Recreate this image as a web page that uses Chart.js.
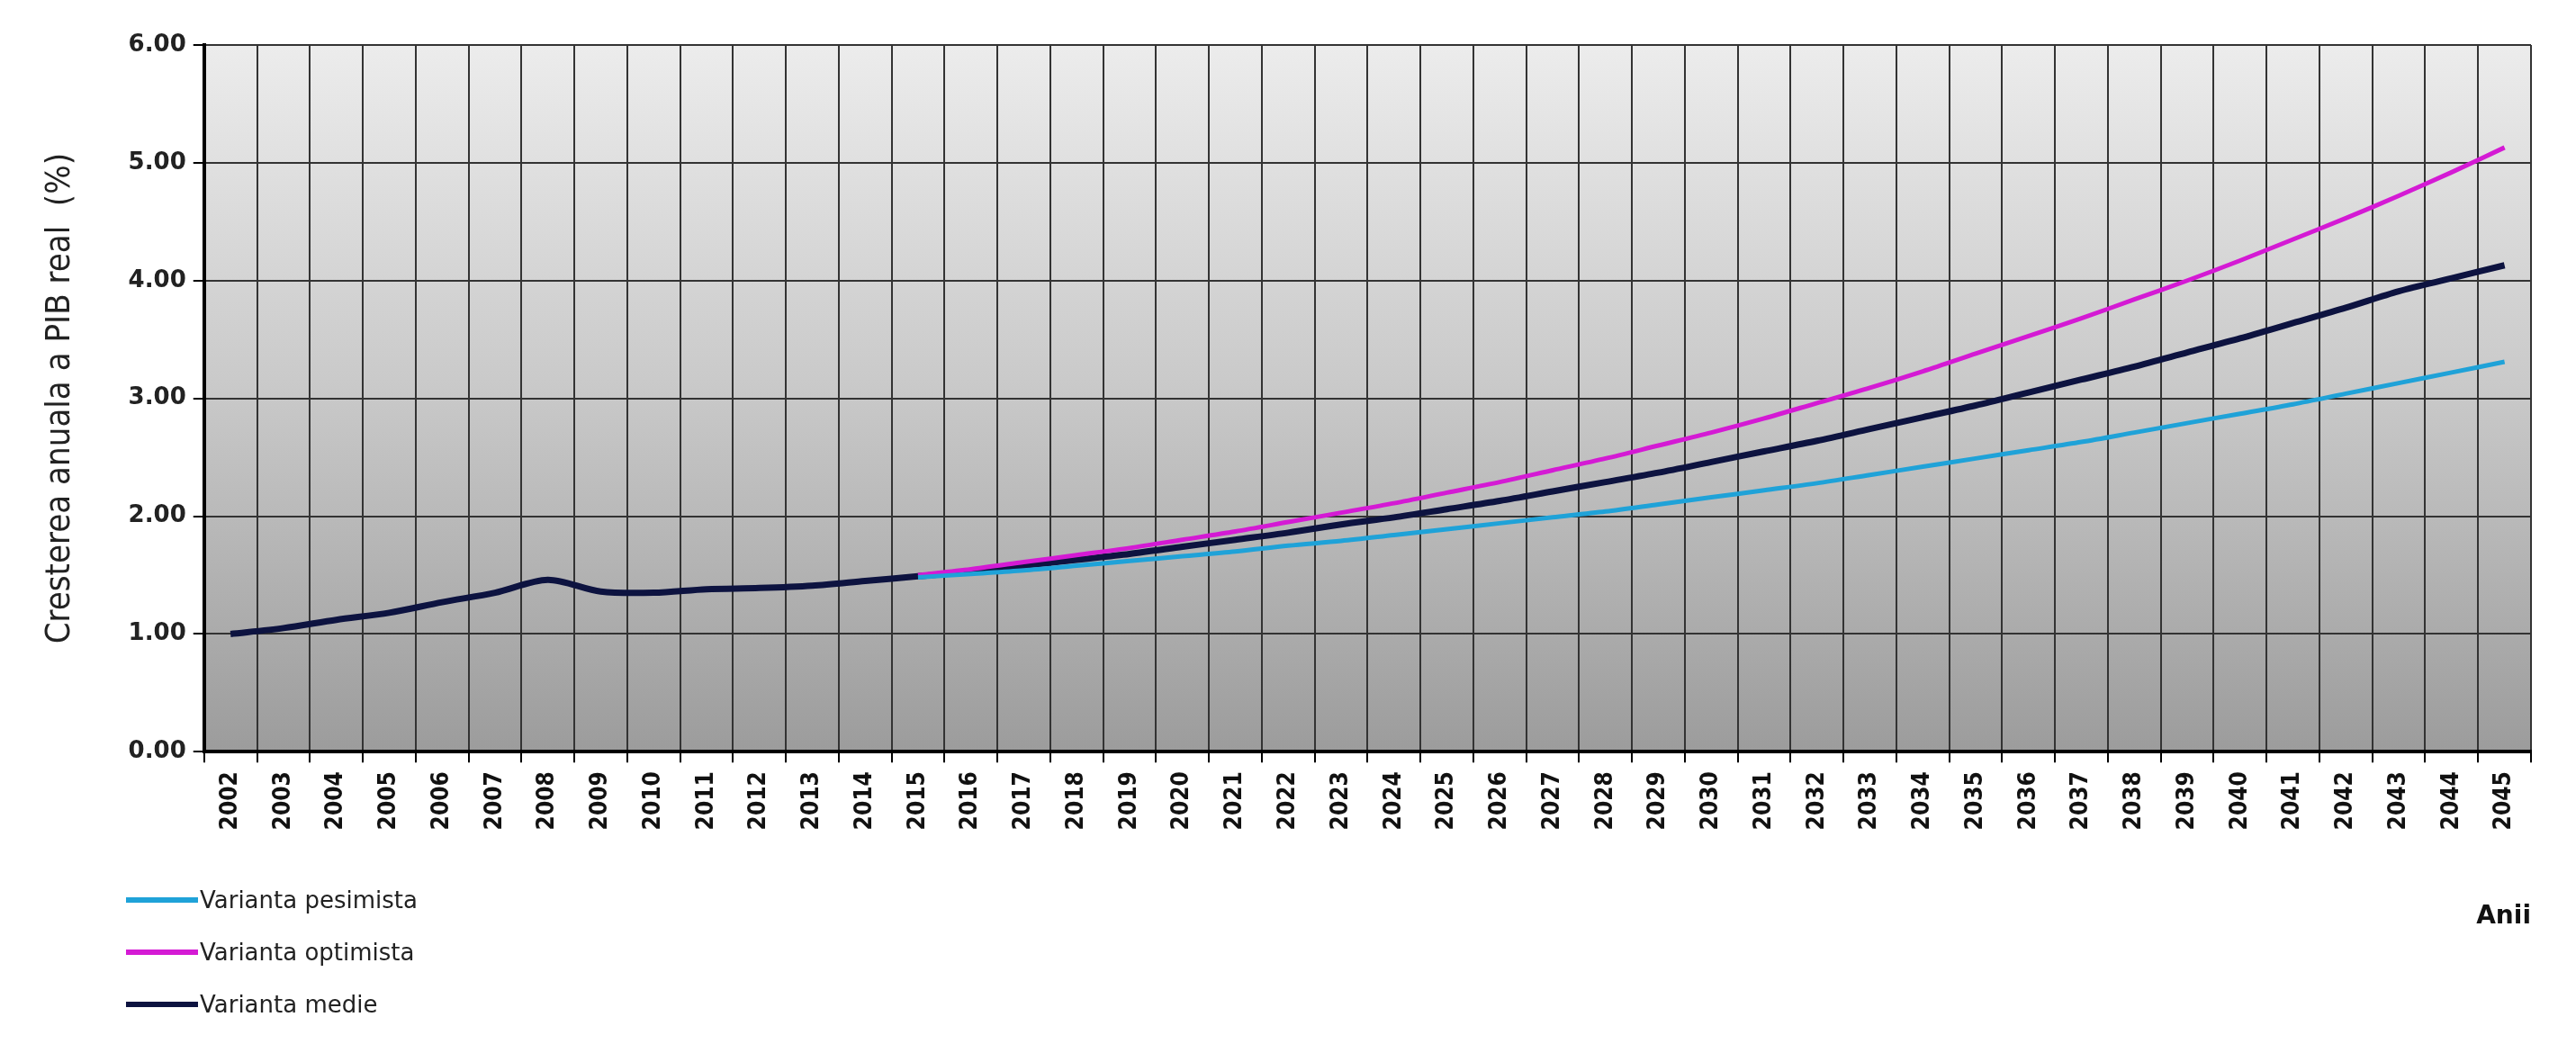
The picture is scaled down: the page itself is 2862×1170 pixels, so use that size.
<!DOCTYPE html>
<html><head><meta charset="utf-8">
<script src="https://cdn.jsdelivr.net/npm/chart.js@4"></script>
<style>
body{margin:0;background:#fff;width:2862px;height:1170px;overflow:hidden;font-family:"DejaVu Sans",Verdana,sans-serif}
#wrap{position:absolute;left:0;top:0;width:2862px;height:1170px}
#legend{position:absolute;left:140px;top:971px;font-size:26px;color:#222}
#legend div{height:58px;display:flex;align-items:center}
#legend span{display:inline-block;width:80px;height:6px;margin-right:2px}
</style></head><body>
<div id="wrap"><canvas id="c" width="2862" height="1170"></canvas></div>
<div id="legend">
<div><span style="background:#1fa2d8"></span>Varianta pesimista</div>
<div><span style="background:#d41ad4"></span>Varianta optimista</div>
<div><span style="background:#0d1340"></span>Varianta medie</div>
</div>
<script>
const years=[];for(let y=2002;y<=2045;y++)years.push(String(y));
const medie=[1.00,1.05,1.12,1.18,1.27,1.35,1.46,1.36,1.35,1.38,1.39,1.41,1.45,1.49,1.53,1.58,1.63,1.68,1.74,1.80,1.86,1.93,1.99,2.06,2.13,2.21,2.29,2.37,2.46,2.55,2.64,2.74,2.84,2.94,3.05,3.16,3.27,3.39,3.51,3.64,3.77,3.91,4.02,4.13];
const pesimista=[null,null,null,null,null,null,null,null,null,null,null,null,null,1.48,1.51,1.54,1.58,1.62,1.66,1.70,1.75,1.79,1.84,1.89,1.94,1.99,2.04,2.10,2.16,2.22,2.28,2.35,2.42,2.49,2.56,2.63,2.71,2.79,2.87,2.95,3.04,3.13,3.22,3.31];
const optimista=[null,null,null,null,null,null,null,null,null,null,null,null,null,1.50,1.55,1.61,1.67,1.73,1.80,1.87,1.95,2.03,2.11,2.20,2.29,2.39,2.49,2.60,2.71,2.83,2.96,3.09,3.23,3.38,3.53,3.68,3.84,4.00,4.17,4.35,4.53,4.72,4.92,5.13];
const bg={id:'bg',beforeDraw(ch){const a=ch.chartArea,c=ch.ctx;const g=c.createLinearGradient(0,a.top,0,a.bottom);g.addColorStop(0,'#ececec');g.addColorStop(0.5,'#c8c8c8');g.addColorStop(1,'#9c9c9c');c.save();c.fillStyle=g;c.fillRect(a.left,a.top,a.right-a.left,a.bottom-a.top);c.restore();}};
new Chart(document.getElementById('c'),{type:'line',
data:{labels:years,datasets:[
{label:'Varianta pesimista',data:pesimista,borderColor:'#1fa2d8',borderWidth:5,pointRadius:0,tension:0.3},
{label:'Varianta optimista',data:optimista,borderColor:'#d41ad4',borderWidth:5,pointRadius:0,tension:0.3},
{label:'Varianta medie',data:medie,borderColor:'#0d1340',borderWidth:7,pointRadius:0,tension:0.3}]},
options:{responsive:false,animation:false,
layout:{padding:{left:40,right:50,top:50,bottom:130}},
plugins:{legend:{display:false},tooltip:{enabled:false}},
scales:{
x:{offset:true,grid:{offset:true,color:'#333',lineWidth:2,tickLength:12,tickColor:'#000'},border:{color:'#000',width:4},
ticks:{color:'#111',padding:10,font:{family:'"Liberation Sans Narrow","DejaVu Sans Condensed",sans-serif',size:26,weight:'bold'},minRotation:90,maxRotation:90,autoSkip:false},
title:{display:true,text:'Anii',align:'end',color:'#111',font:{family:'"DejaVu Sans",sans-serif',size:28,weight:'bold'},padding:{top:70}}},
y:{min:0,max:6,grid:{color:'#333',lineWidth:2,tickLength:12,tickColor:'#000'},border:{color:'#000',width:4},
ticks:{stepSize:1,color:'#222',padding:8,font:{family:'"DejaVu Sans",sans-serif',size:26,weight:'bold'},callback:v=>v.toFixed(2)},
title:{display:true,text:'Cresterea anuala a PIB real  (%)',color:'#222',font:{family:'"Liberation Sans Narrow","DejaVu Sans Condensed",sans-serif',size:38},padding:{bottom:45}}}}},
plugins:[bg]});
</script></body></html>
